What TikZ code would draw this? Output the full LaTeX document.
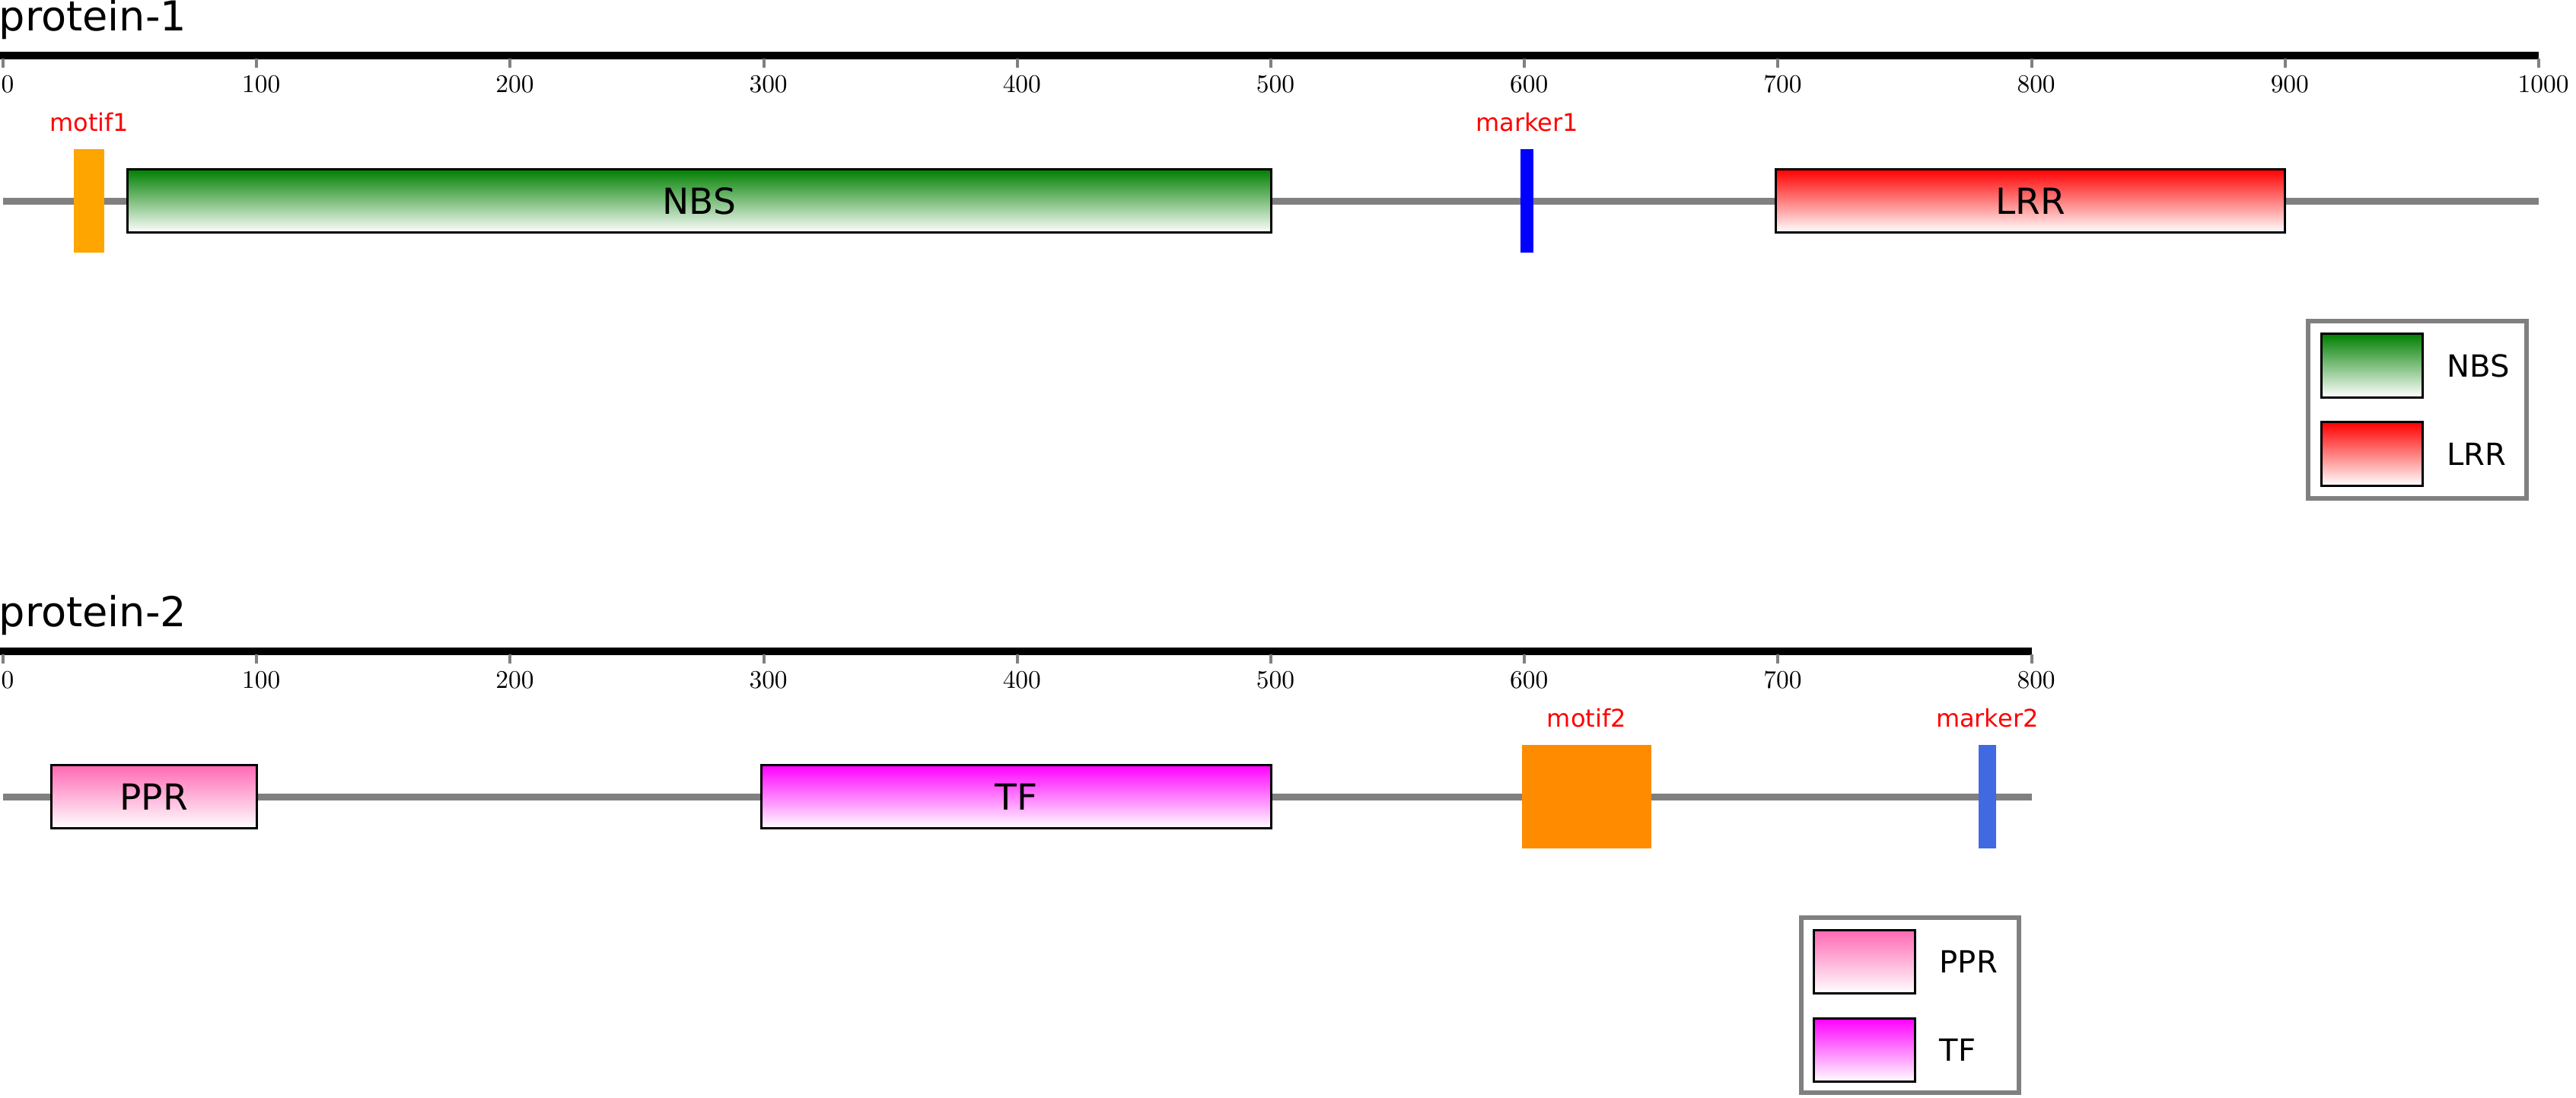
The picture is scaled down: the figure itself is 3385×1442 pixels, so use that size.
\documentclass[tikz,border=0pt]{standalone}
\usepackage{fontspec}
\newfontfamily\dejavu{DejaVu Sans}
\usetikzlibrary{positioning}

\definecolor{nbsgreen}{RGB}{0,128,0}
\definecolor{lrrred}{RGB}{255,0,0}
\definecolor{pprpink}{RGB}{255,105,180}
\definecolor{tfmagenta}{RGB}{255,0,255}
\definecolor{motifone}{RGB}{255,165,0}
\definecolor{motiftwo}{RGB}{255,140,0}
\definecolor{markerone}{RGB}{0,0,255}
\definecolor{markertwo}{RGB}{65,105,225}
\definecolor{linegray}{RGB}{128,128,128}

\tikzset{
    chaintitle/.style={anchor=base west, inner sep=0pt, font=\dejavu\fontsize{15.4}{18}\selectfont},
    scalebar/.style={draw=black, line width=0.1cm},
    scaletick/.style={draw=linegray, line width=0.04cm},
    ticklabel/.style={inner sep=0pt, font=\fontsize{9.5}{10}\selectfont},
    backbone/.style={draw=linegray, line width=0.09cm},
    protdomain/.style={draw=black, line width=0.03cm, inner sep=0pt, minimum height=0.83cm,
        bottom color=white, font=\dejavu\fontsize{13.4}{16}\selectfont},
    motif/.style={inner sep=0pt, minimum height=1.36cm},
    motiflabel/.style={above=0.22cm, inner sep=0pt, text=red, font=\dejavu\fontsize{9.1}{11}\selectfont},
    legendframe/.style={draw=linegray, line width=0.06cm},
    legendkey/.style={draw=black, line width=0.03cm, inner sep=0pt, minimum width=1.33cm,
        minimum height=0.83cm, bottom color=white},
    legendtext/.style={right=0.3cm, inner sep=0pt, font=\dejavu\fontsize{11.4}{14}\selectfont}
}

\begin{document}
\begin{tikzpicture}[x=0.01cm, y=-0.01cm]
    \def\u{3.332}
    \useasboundingbox (0,0) rectangle (3385,1442);

    % protein-1, 1000 aa
    \node[chaintitle] (titleA) at (-2,40) {protein-1};
    \draw[scalebar] (0,72.5) -- ({4+1000*\u},72.5);
    \foreach \t in {0,100,...,1000} {
        \draw[scaletick] ({4+\t*\u},77) -- ({4+\t*\u},89);
        \node[ticklabel] (tickA\t) at ({10+\t*\u},111) {\t};
    }

    \coordinate (startA) at (4,264);
    \coordinate (endA) at ({4+1000*\u},264);
    \draw[backbone] (startA) -- (endA);

    \node[motif, fill=motifone, minimum width={12*\u*0.01cm}] (motif1) at ({4+34*\u},264) {};
    \node[motiflabel] (motif1lab) at (motif1.north) {motif1};
    \node[protdomain, top color=nbsgreen, minimum width={451*\u*0.01cm}] (nbs) at ({4+274.5*\u},264) {NBS};
    \node[motif, fill=markerone, minimum width={5*\u*0.01cm}] (marker1) at ({4+601*\u},264) {};
    \node[motiflabel] (marker1lab) at (marker1.north) {marker1};
    \node[protdomain, top color=lrrred, minimum width={201*\u*0.01cm}] (lrr) at ({4+799.5*\u},264) {LRR};

    % legend of protein-1
    \draw[legendframe] (3033,422) rectangle (3320,655);
    \node[legendkey, top color=nbsgreen] (keynbs) at (3116.5,480.5) {};
    \node[legendkey, top color=lrrred] (keylrr) at (3116.5,596.5) {};
    \node[legendtext] (txtnbs) at (keynbs.east) {NBS};
    \node[legendtext] (txtlrr) at (keylrr.east) {LRR};

    % protein-2, 800 aa
    \node[chaintitle] (titleB) at (-2,823) {protein-2};
    \draw[scalebar] (0,855.5) -- ({4+800*\u},855.5);
    \foreach \t in {0,100,...,800} {
        \draw[scaletick] ({4+\t*\u},860) -- ({4+\t*\u},872);
        \node[ticklabel] (tickB\t) at ({10+\t*\u},894) {\t};
    }

    \coordinate (startB) at (4,1047);
    \coordinate (endB) at ({4+800*\u},1047);
    \draw[backbone] (startB) -- (endB);

    \node[protdomain, top color=pprpink, minimum width={81*\u*0.01cm}] (ppr) at ({4+59.5*\u},1047) {PPR};
    \node[protdomain, top color=tfmagenta, minimum width={201*\u*0.01cm}] (tf) at ({4+399.5*\u},1047) {TF};
    \node[motif, fill=motiftwo, minimum width={51*\u*0.01cm}] (motif2) at ({4+624.5*\u},1047) {};
    \node[motiflabel] (motif2lab) at (motif2.north) {motif2};
    \node[motif, fill=markertwo, minimum width={7*\u*0.01cm}] (marker2) at ({4+782.5*\u},1047) {};
    \node[motiflabel] (marker2lab) at (marker2.north) {marker2};

    % legend of protein-2
    \draw[legendframe] (2367,1206) rectangle (2653,1436);
    \node[legendkey, top color=pprpink] (keyppr) at (2450,1264) {};
    \node[legendkey, top color=tfmagenta] (keytf) at (2450,1380) {};
    \node[legendtext] (txtppr) at (keyppr.east) {PPR};
    \node[legendtext] (txttf) at (keytf.east) {TF};
\end{tikzpicture}
\end{document}
